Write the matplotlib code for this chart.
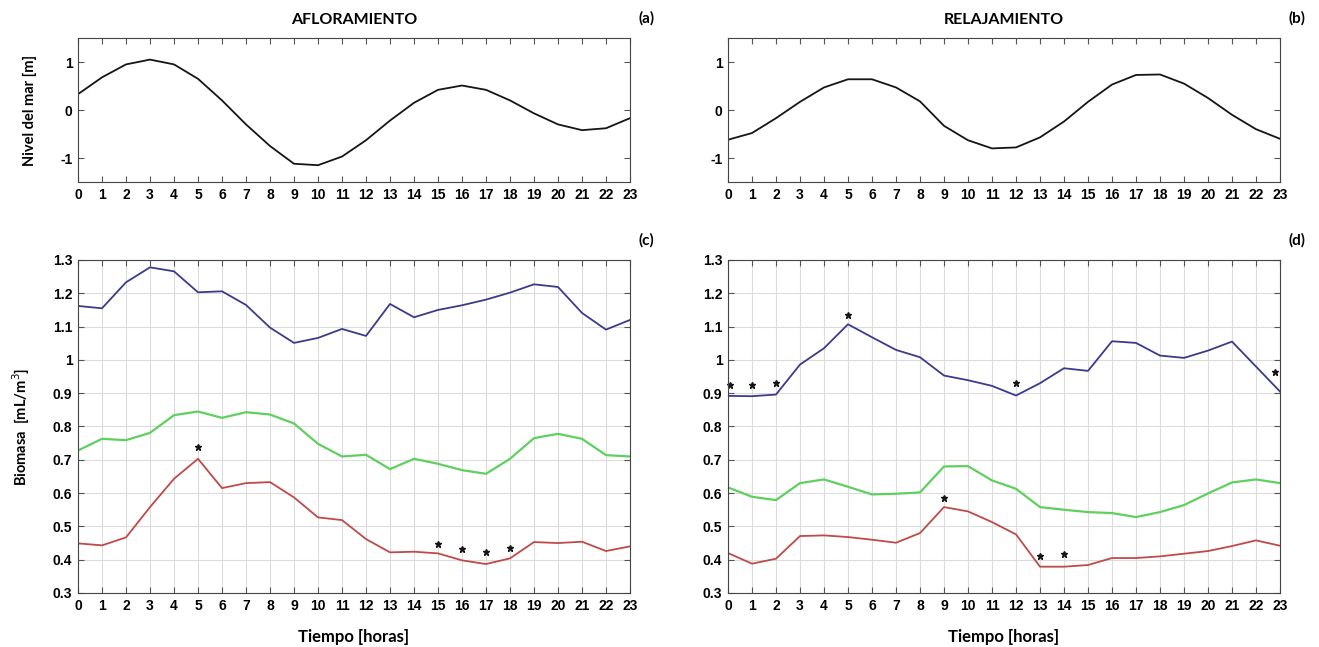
import matplotlib
matplotlib.use("Agg")
import matplotlib.pyplot as plt

# horas del dia
horas = list(range(24))

# nivel del mar [m]
nivel_aflor = [0.33, 0.68, 0.95, 1.05, 0.95, 0.65, 0.20, -0.30, -0.75, -1.12, -1.15, -0.97,
               -0.63, -0.22, 0.15, 0.42, 0.51, 0.42, 0.20, -0.07, -0.30, -0.42, -0.38, -0.17]
nivel_relaj = [-0.62, -0.48, -0.17, 0.17, 0.47, 0.64, 0.64, 0.47, 0.18, -0.33, -0.63, -0.80,
               -0.78, -0.57, -0.24, 0.17, 0.53, 0.73, 0.74, 0.55, 0.25, -0.10, -0.40, -0.60]

# biomasa [mL/m3] - afloramiento
aflor_azul = [1.162, 1.155, 1.233, 1.278, 1.266, 1.203, 1.206, 1.165, 1.097, 1.051, 1.066, 1.093,
              1.072, 1.168, 1.128, 1.150, 1.164, 1.181, 1.202, 1.227, 1.219, 1.141, 1.091, 1.120]
aflor_verde = [0.728, 0.763, 0.759, 0.781, 0.834, 0.845, 0.826, 0.843, 0.836, 0.809, 0.748, 0.710,
               0.715, 0.672, 0.703, 0.688, 0.669, 0.658, 0.703, 0.765, 0.778, 0.763, 0.714, 0.710]
aflor_rojo = [0.449, 0.443, 0.467, 0.558, 0.643, 0.703, 0.615, 0.630, 0.633, 0.587, 0.527, 0.519,
              0.462, 0.422, 0.424, 0.419, 0.398, 0.387, 0.404, 0.453, 0.450, 0.454, 0.426, 0.440]

# biomasa [mL/m3] - relajamiento
relaj_azul = [0.892, 0.891, 0.896, 0.986, 1.035, 1.107, 1.068, 1.030, 1.008, 0.953, 0.939, 0.922,
              0.893, 0.930, 0.975, 0.967, 1.056, 1.051, 1.013, 1.006, 1.028, 1.055, 0.980, 0.905]
relaj_verde = [0.617, 0.589, 0.579, 0.630, 0.641, 0.619, 0.596, 0.598, 0.602, 0.680, 0.681, 0.638,
               0.613, 0.558, 0.550, 0.543, 0.540, 0.528, 0.543, 0.564, 0.599, 0.632, 0.641, 0.630]
relaj_rojo = [0.420, 0.388, 0.403, 0.471, 0.473, 0.468, 0.460, 0.451, 0.480, 0.558, 0.545, 0.513,
              0.476, 0.379, 0.379, 0.384, 0.405, 0.405, 0.410, 0.418, 0.426, 0.441, 0.458, 0.442]

# diferencias significativas (*)
aflor_sig_x = [5, 15, 16, 17, 18]
aflor_sig_y = [0.738, 0.446, 0.433, 0.424, 0.435]
relaj_sig_x = [0.1, 1, 2, 5, 12, 22.8, 9, 13, 14]
relaj_sig_y = [0.925, 0.925, 0.931, 1.135, 0.930, 0.964, 0.585, 0.411, 0.416]

AZUL = "#3b3b8c"
VERDE = "#5fd05f"
ROJO = "#bf4a4a"
tick_font = {"family": "Liberation Sans", "weight": "bold", "size": 10}
lab_font = {"family": "Lato", "weight": "bold"}

fig = plt.figure(figsize=(13.19, 6.47), dpi=100)
W, H = 1319, 647


def caja(x0, y_top, w, h):
    return fig.add_axes([x0 / W, 1 - (y_top + h) / H, w / W, h / H])


def estilo(ax):
    ax.set_xlim(0, 23)
    ax.set_xticks(horas)
    ax.tick_params(direction="in", top=True, right=True, length=4, width=0.8,
                   color="#555555", pad=4)
    for lab in ax.get_xticklabels() + ax.get_yticklabels():
        lab.set_fontproperties(tick_font)
    for s in ax.spines.values():
        s.set_color("#444444")
        s.set_linewidth(0.8)


# paneles superiores: nivel del mar
for x0, nivel, titulo, letra in [(78, nivel_aflor, "AFLORAMIENTO", "(a)"),
                                  (728, nivel_relaj, "RELAJAMIENTO", "(b)")]:
    ax = caja(x0, 38, 552, 144)
    ax.plot(horas, nivel, color="#151515", lw=1.3)
    ax.set_ylim(-1.5, 1.5)
    ax.set_yticks([-1, 0, 1])
    ax.set_yticklabels(["-1", "0", "1"])
    estilo(ax)
    ax.set_title(titulo, fontsize=11.5, pad=10, **lab_font)
    ax.text(1.03, 1.14, letra, transform=ax.transAxes, ha="center", va="center",
            fontsize=11, **lab_font)
    if x0 == 78:
        ax.set_ylabel("Nivel del mar [m]", fontsize=10.5, labelpad=17, **lab_font)

# paneles inferiores: biomasa
paneles = [(78, aflor_azul, aflor_verde, aflor_rojo, aflor_sig_x, aflor_sig_y, "(c)"),
           (728, relaj_azul, relaj_verde, relaj_rojo, relaj_sig_x, relaj_sig_y, "(d)")]
for x0, azul, verde, rojo, sx, sy, letra in paneles:
    ax = caja(x0, 260, 552, 333)
    ax.grid(True, color="#dcdcdc", lw=0.8)
    ax.set_axisbelow(True)
    ax.plot(horas, azul, color=AZUL, lw=1.3)
    ax.plot(horas, verde, color=VERDE, lw=1.6)
    ax.plot(horas, rojo, color=ROJO, lw=1.3)
    ax.plot(sx, sy, ls="none", marker="*", ms=5, color="#151515", clip_on=False)
    ax.set_ylim(0.3, 1.3)
    yt = [0.3, 0.4, 0.5, 0.6, 0.7, 0.8, 0.9, 1.0, 1.1, 1.2, 1.3]
    ax.set_yticks(yt)
    ax.set_yticklabels(["%g" % v for v in yt])
    estilo(ax)
    ax.set_xlabel("Tiempo [horas]", fontsize=12, labelpad=12, **lab_font)
    ax.text(1.03, 1.058, letra, transform=ax.transAxes, ha="center", va="center",
            fontsize=11, **lab_font)
    if x0 == 78:
        ax.set_ylabel("Biomasa  [mL/m$^3$]", fontsize=10.5, labelpad=15, **lab_font)

fig.savefig("out.png", dpi=100)
